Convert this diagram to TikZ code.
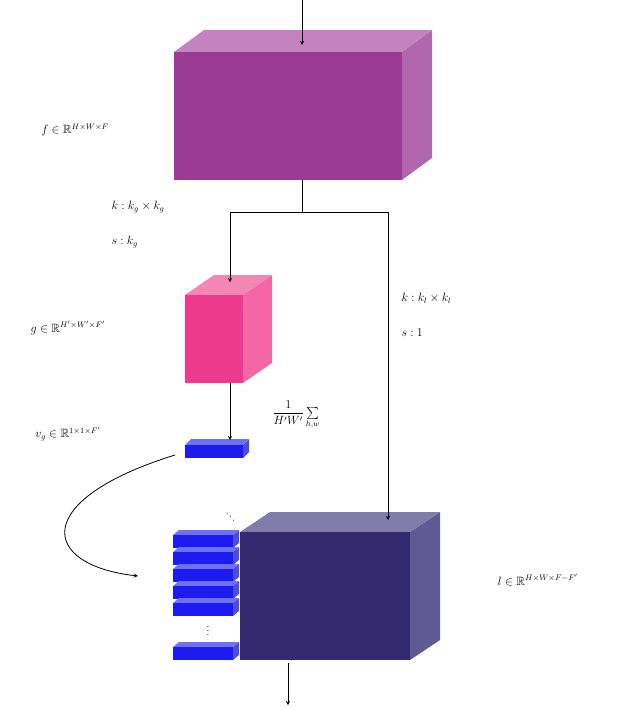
\documentclass[tikz,border=0pt]{standalone}
\usepackage{amsmath,amssymb}
\begin{document}
\begin{tikzpicture}[x=1pt,y=-1pt,>=stealth,
 lbl/.style={font=\large},
 conn/.style={->,thick}]
\useasboundingbox (0,0) rectangle (628,710);
\newcommand{\cuboid}[8]{% x1 y1 x2 y2 dx dy front top right
 \fill[#8] (#3,#2) -- (#3+#5,#2+#6) -- (#3+#5,#4+#6) -- (#3,#4) -- cycle;
 \fill[#7] (#1,#2) -- (#1+#5,#2+#6) -- (#3+#5,#2+#6) -- (#3,#2) -- cycle;
}
\definecolor{pf}{HTML}{9B3B96}\definecolor{pt}{HTML}{C283BF}\definecolor{pr}{HTML}{B067AD}
\definecolor{gf}{HTML}{EE3A8C}\definecolor{gt}{HTML}{F286B5}\definecolor{gr}{HTML}{F466A6}
\definecolor{lf}{HTML}{352A70}\definecolor{lt}{HTML}{827CAA}\definecolor{lr}{HTML}{5F5A92}
\definecolor{bf}{HTML}{1C1CF0}\definecolor{bt}{HTML}{7070F5}\definecolor{br}{HTML}{4A4AF2}
% top box
\cuboid{174}{52}{402}{180}{30}{-22}{pt}{pr}
\node[fill=pf,minimum width=228pt,minimum height=128pt,inner sep=0,anchor=north west] (f) at (174,52) {};
% g box
\cuboid{185}{295}{243}{383}{29}{-20}{gt}{gr}
\node[fill=gf,minimum width=58pt,minimum height=88pt,inner sep=0,anchor=north west] (g) at (185,295) {};
% vg
\cuboid{185}{445}{243}{458}{6}{-6}{bt}{br}
\node[fill=bf,minimum width=58pt,minimum height=13pt,inner sep=0,anchor=north west] (vg) at (185,445) {};
% l box
\cuboid{240}{532}{410}{660}{30}{-20}{lt}{lr}
\node[fill=lf,minimum width=170pt,minimum height=128pt,inner sep=0,anchor=north west] (l) at (240,532) {};
% stacked blue
\foreach \y in {535,552,569,586,603,647}{
 \cuboid{173}{\y}{233}{\y+13}{6}{-5}{bt}{br}
 \fill[bf] (173,\y) rectangle (233,\y+13);
}
\node (vd) at (208,628) {$\vdots$};
\node[rotate=-45] (dd) at (231,518) {$\cdots$};
% coordinates
\coordinate (in) at (302,0);
\coordinate (split) at (302,212);
\coordinate (out) at (288,705);
\coordinate (lt) at (388,520);
\coordinate (gt) at (230,282);
\coordinate (vgt) at (230,440);
\coordinate (stk) at (138,576);
\draw[conn] (in) -- (302,45);
\draw[thick] (302,180) -- (split);
\draw[conn] (split) -| (gt);
\draw[conn] (split) -| (lt);
\draw[conn] (230,383) -- (vgt);
\draw[conn] (175,455) .. controls (30,500) and (40,565) .. (stk);
\draw[conn] (288,663) -- (out);
% labels
\node[lbl] at (75,130) {$f \in \mathbb{R}^{H\times W\times F}$};
\node[lbl,anchor=west] at (108,207) {$k : k_g\times k_g$};
\node[lbl,anchor=west] at (108,242) {$s : k_g$};
\node[lbl] at (68,328) {$g \in \mathbb{R}^{H'\times W'\times F'}$};
\node[lbl] at (296,415) {$\dfrac{1}{H'W'}\sum\limits_{h,w}$};
\node[lbl] at (68,434) {$v_g \in \mathbb{R}^{1\times1\times F'}$};
\node[lbl,anchor=west] at (398,298) {$k : k_l\times k_l$};
\node[lbl,anchor=west] at (398,333) {$s : 1$};
\node[lbl] at (538,580) {$l \in \mathbb{R}^{H\times W\times F-F'}$};
\end{tikzpicture}
\end{document}
